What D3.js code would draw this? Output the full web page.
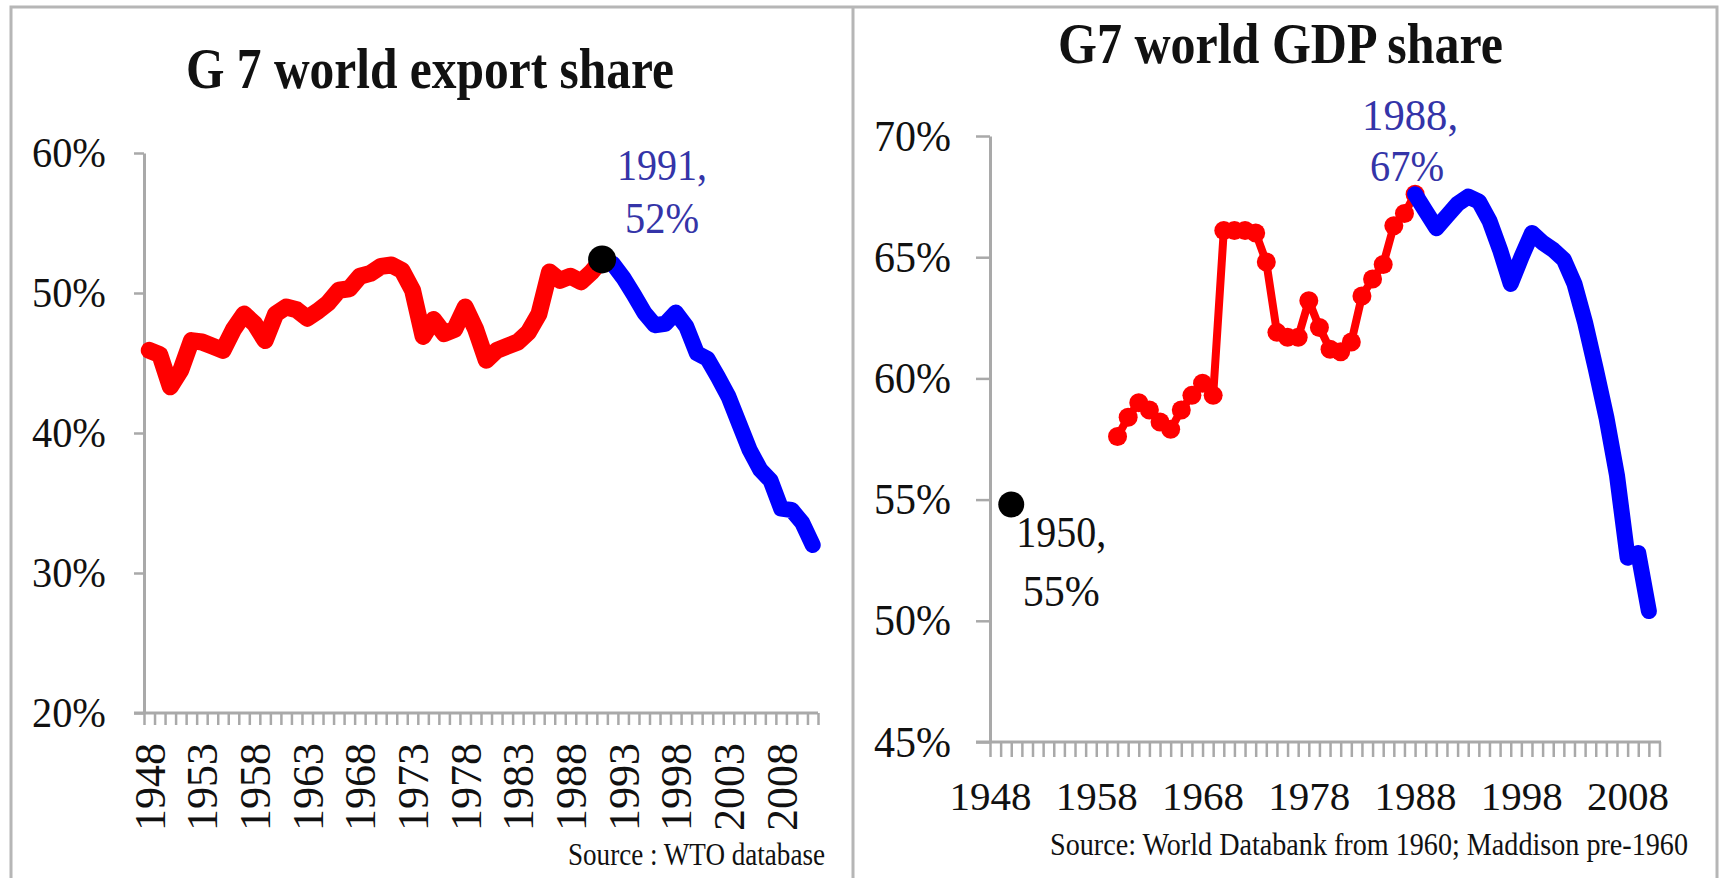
<!DOCTYPE html>
<html>
<head>
<meta charset="utf-8">
<script src="https://cdnjs.cloudflare.com/ajax/libs/d3/7.8.5/d3.min.js"></script>
<style>
body { margin: 0; background: #fff; overflow: hidden; }
text { font-family: "Liberation Serif", "Times New Roman", serif; }
</style>
</head>
<body>
<div id="charts"></div>
<script>
// years shared by both panels (category axis)
var years = [1948, 1949, 1950, 1951, 1952, 1953, 1954, 1955, 1956, 1957,
             1958, 1959, 1960, 1961, 1962, 1963, 1964, 1965, 1966, 1967,
             1968, 1969, 1970, 1971, 1972, 1973, 1974, 1975, 1976, 1977,
             1978, 1979, 1980, 1981, 1982, 1983, 1984, 1985, 1986, 1987,
             1988, 1989, 1990, 1991, 1992, 1993, 1994, 1995, 1996, 1997,
             1998, 1999, 2000, 2001, 2002, 2003, 2004, 2005, 2006, 2007,
             2008, 2009, 2010, 2011];

// G7 share of world exports, %
var exportShare = [45.9, 45.6, 43.3, 44.5, 46.6, 46.5, 46.2, 45.9, 47.4, 48.5,
                   47.8, 46.6, 48.5, 49.0, 48.8, 48.2, 48.7, 49.3, 50.2, 50.3,
                   51.2, 51.4, 51.9, 52.0, 51.6, 50.2, 46.9, 48.1, 47.1, 47.4,
                   49.0, 47.4, 45.2, 45.9, 46.2, 46.5, 47.2, 48.5, 51.5, 50.9,
                   51.2, 50.8, 51.5, 52.4, 52.1, 51.1, 49.9, 48.6, 47.7, 47.8,
                   48.6, 47.6, 45.7, 45.3, 44.0, 42.6, 40.7, 38.8, 37.4, 36.6,
                   34.6, 34.5, 33.6, 32.0];

// G7 share of world GDP, % (null = no data)
var gdpShare = [null, null, 54.8, null, null, null, null, null, null, null,
                null, null, 57.6, 58.4, 59.0, 58.7, 58.2, 57.9, 58.7, 59.3,
                59.8, 59.3, 66.1, 66.1, 66.1, 66.0, 64.8, 61.9, 61.7, 61.7,
                63.2, 62.1, 61.2, 61.1, 61.5, 63.4, 64.1, 64.7, 66.3, 66.8,
                67.6, 66.9, 66.2, 66.7, 67.2, 67.5, 67.3, 66.5, 65.3, 63.9,
                65.0, 66.0, 65.6, 65.3, 64.9, 63.9, 62.3, 60.4, 58.4, 56.0,
                52.6, 52.8, 50.4, null];

var exportTicks = [20, 30, 40, 50, 60];
var gdpTicks = [45, 50, 55, 60, 65, 70];
var exportYearLabels = [1948, 1953, 1958, 1963, 1968, 1973, 1978, 1983, 1988, 1993, 1998, 2003, 2008];
var gdpYearLabels = [1948, 1958, 1968, 1978, 1988, 1998, 2008];

// highlighted points
var exportPeakYear = 1991;
var gdpPeakYear = 1988;
var gdpFirstYear = 1950;
var gdpSeriesStart = 1960;

var axisColor = "#a9a9a9";
var noteBlue = "#3434a8";

var svg = d3.select("#charts").append("svg")
            .attr("width", 1721)
            .attr("height", 878);

svg.append("rect")
   .attr("width", 1721).attr("height", 878)
   .attr("fill", "#fff");

// outer frame + divider between the two panels
svg.append("rect")
   .attr("x", 11).attr("y", 7)
   .attr("width", 1706).attr("height", 900)
   .attr("fill", "none")
   .attr("stroke", "#b6b6b6")
   .attr("stroke-width", 3);
svg.append("line")
   .attr("x1", 853).attr("x2", 853)
   .attr("y1", 7).attr("y2", 878)
   .attr("stroke", "#b6b6b6")
   .attr("stroke-width", 3);

function styleAxis(g, size) {
  g.attr("font-family", "Liberation Serif").attr("font-size", size);
  g.select(".domain").attr("stroke", axisColor).attr("stroke-width", 3);
  g.selectAll(".tick line").attr("stroke", axisColor).attr("stroke-width", 2.5);
  g.selectAll("text").attr("fill", "#111");
}

function exportChart(){
  var data = years.map(function(yr, i){ return {year: yr, value: exportShare[i]}; });

  // set the ranges
  var x = d3.scaleBand().domain(years).range([144, 818]);
  var xEdge = d3.scaleLinear().domain([years[0], years[years.length - 1] + 1]).range([144, 818]);
  var y = d3.scaleLinear().domain([20, 60]).range([713, 153]);

  // title
  svg.append("text")
     .text("G 7 world export share")
     .attr("x", 186).attr("y", 88)
     .attr("font-size", 58)
     .attr("font-weight", "bold")
     .attr("fill", "#111")
     .attr("textLength", 488)
     .attr("lengthAdjust", "spacingAndGlyphs");

  // Y axis
  var yAxis = svg.append("g")
     .attr("transform", "translate(144,0)")
     .call(d3.axisLeft(y).tickValues(exportTicks).tickSize(10).tickSizeOuter(0)
            .tickPadding(28).tickFormat(function(d){ return d + "%"; }));
  styleAxis(yAxis, 43);
  yAxis.selectAll("text").attr("textLength", 74).attr("lengthAdjust", "spacingAndGlyphs");

  // X axis: one tick per year, between categories
  var edges = years.concat([years[years.length - 1] + 1]);
  var xTicks = svg.append("g")
     .attr("transform", "translate(0,713)")
     .call(d3.axisBottom(xEdge).tickValues(edges).tickSize(12).tickSizeOuter(0).tickFormat(""));
  styleAxis(xTicks, 10);
  xTicks.selectAll("text").remove();
  xTicks.select(".domain").attr("d", "M134,0H818");

  // rotated year labels every 5 years
  var xLabels = svg.append("g")
     .attr("transform", "translate(0,713)")
     .call(d3.axisBottom(x).tickValues(exportYearLabels).tickSize(0));
  xLabels.select(".domain").remove();
  xLabels.attr("font-family", "Liberation Serif").attr("font-size", 44);
  xLabels.selectAll("text")
     .attr("fill", "#111")
     .attr("transform", "rotate(-90)")
     .attr("x", -30).attr("y", 0).attr("dy", "0.35em")
     .style("text-anchor", "end");

  var line = d3.line()
     .x(function(d){ return x(d.year) + x.bandwidth() / 2; })
     .y(function(d){ return y(d.value); });

  svg.append("path")
     .datum(data.filter(function(d){ return d.year <= exportPeakYear; }))
     .attr("fill", "none")
     .attr("stroke", "#ff0000")
     .attr("stroke-width", 17)
     .attr("stroke-linejoin", "round")
     .attr("stroke-linecap", "round")
     .attr("d", line);

  svg.append("path")
     .datum(data.filter(function(d){ return d.year >= exportPeakYear; }))
     .attr("fill", "none")
     .attr("stroke", "#0000ff")
     .attr("stroke-width", 16)
     .attr("stroke-linejoin", "round")
     .attr("stroke-linecap", "round")
     .attr("d", line);

  var peak = data.filter(function(d){ return d.year == exportPeakYear; })[0];
  var px = x(peak.year) + x.bandwidth() / 2;
  var py = y(peak.value);
  svg.append("circle")
     .attr("cx", px).attr("cy", py).attr("r", 14)
     .attr("fill", "#000");

  svg.append("text")
     .text(peak.year + ",")
     .attr("x", px + 60).attr("y", py - 79)
     .attr("font-size", 44).attr("fill", noteBlue)
     .attr("text-anchor", "middle")
     .attr("textLength", 90).attr("lengthAdjust", "spacingAndGlyphs");
  svg.append("text")
     .text(Math.round(peak.value) + "%")
     .attr("x", px + 60).attr("y", py - 26)
     .attr("font-size", 44).attr("fill", noteBlue)
     .attr("text-anchor", "middle")
     .attr("textLength", 74).attr("lengthAdjust", "spacingAndGlyphs");

  // source note
  svg.append("text")
     .text("Source : WTO database")
     .attr("x", 568).attr("y", 865)
     .attr("font-size", 31).attr("fill", "#111")
     .attr("textLength", 257).attr("lengthAdjust", "spacingAndGlyphs");
}

function gdpChart(){
  var data = years.map(function(yr, i){ return {year: yr, value: gdpShare[i]}; });

  // set the ranges
  var x = d3.scalePoint().domain(years).range([990, 1659.5]);
  var y = d3.scaleLinear().domain([45, 70]).range([742, 136]);

  svg.append("text")
     .text("G7 world GDP share")
     .attr("x", 1058).attr("y", 63)
     .attr("font-size", 58)
     .attr("font-weight", "bold")
     .attr("fill", "#111")
     .attr("textLength", 445)
     .attr("lengthAdjust", "spacingAndGlyphs");

  // Y axis
  var yAxis = svg.append("g")
     .attr("transform", "translate(990,0)")
     .call(d3.axisLeft(y).tickValues(gdpTicks).tickSize(14).tickSizeOuter(0)
            .tickPadding(25).tickFormat(function(d){ return d + "%"; }));
  styleAxis(yAxis, 44);
  yAxis.selectAll("text").attr("textLength", 77).attr("lengthAdjust", "spacingAndGlyphs");

  // X axis: ticks on every year
  var xAxis = svg.append("g")
     .attr("transform", "translate(0,742)")
     .call(d3.axisBottom(x).tickValues(years).tickSize(15).tickSizeOuter(0).tickFormat(""));
  styleAxis(xAxis, 10);
  xAxis.selectAll("text").remove();
  xAxis.select(".domain").attr("d", "M976,0H1661");

  // year labels every 10 years
  var xLabels = svg.append("g")
     .attr("transform", "translate(0,742)")
     .call(d3.axisBottom(x).tickValues(gdpYearLabels).tickSize(0));
  xLabels.select(".domain").remove();
  xLabels.attr("font-family", "Liberation Serif").attr("font-size", 41);
  xLabels.selectAll("text")
     .attr("fill", "#111")
     .attr("y", 68).attr("dy", 0);

  var line = d3.line()
     .defined(function(d){ return d.value != null; })
     .x(function(d){ return x(d.year); })
     .y(function(d){ return y(d.value); });

  var redPart = data.filter(function(d){ return d.year >= gdpSeriesStart && d.year <= gdpPeakYear; });

  svg.append("path")
     .datum(redPart)
     .attr("fill", "none")
     .attr("stroke", "#ff0000")
     .attr("stroke-width", 8)
     .attr("stroke-linejoin", "round")
     .attr("d", line);

  svg.selectAll(".gdpdot")
     .data(redPart)
     .enter()
     .append("circle")
     .attr("class", "gdpdot")
     .attr("fill", "#ff0000")
     .attr("r", 9.5)
     .attr("cx", function(d){ return x(d.year); })
     .attr("cy", function(d){ return y(d.value); });

  svg.append("path")
     .datum(data.filter(function(d){ return d.year >= gdpPeakYear; }))
     .attr("fill", "none")
     .attr("stroke", "#0000ff")
     .attr("stroke-width", 16)
     .attr("stroke-linejoin", "round")
     .attr("stroke-linecap", "round")
     .attr("d", line);

  // 1950 point
  var first = data.filter(function(d){ return d.year == gdpFirstYear; })[0];
  var fx = x(first.year), fy = y(first.value);
  svg.append("circle")
     .attr("cx", fx).attr("cy", fy).attr("r", 13)
     .attr("fill", "#000");
  svg.append("text")
     .text(first.year + ",")
     .attr("x", fx + 50).attr("y", fy + 43)
     .attr("font-size", 44).attr("fill", "#111")
     .attr("text-anchor", "middle")
     .attr("textLength", 90).attr("lengthAdjust", "spacingAndGlyphs");
  svg.append("text")
     .text(Math.round(first.value) + "%")
     .attr("x", fx + 50).attr("y", fy + 102)
     .attr("font-size", 44).attr("fill", "#111")
     .attr("text-anchor", "middle")
     .attr("textLength", 77).attr("lengthAdjust", "spacingAndGlyphs");

  // 1988 peak
  var peak = data.filter(function(d){ return d.year == gdpPeakYear; })[0];
  var px = x(peak.year), py = y(peak.value);
  svg.append("text")
     .text(peak.year + ",")
     .attr("x", px - 5).attr("y", py - 64)
     .attr("font-size", 44).attr("fill", noteBlue)
     .attr("text-anchor", "middle")
     .attr("textLength", 96).attr("lengthAdjust", "spacingAndGlyphs");
  svg.append("text")
     .text(Math.round(peak.value - 0.5) + "%")
     .attr("x", px - 8).attr("y", py - 13)
     .attr("font-size", 44).attr("fill", noteBlue)
     .attr("text-anchor", "middle")
     .attr("textLength", 74).attr("lengthAdjust", "spacingAndGlyphs");

  svg.append("text")
     .text("Source: World Databank from  1960; Maddison pre-1960")
     .attr("x", 1050).attr("y", 855)
     .attr("font-size", 31).attr("fill", "#111")
     .attr("textLength", 638).attr("lengthAdjust", "spacingAndGlyphs");
}

exportChart();
gdpChart();
</script>
</body>
</html>
